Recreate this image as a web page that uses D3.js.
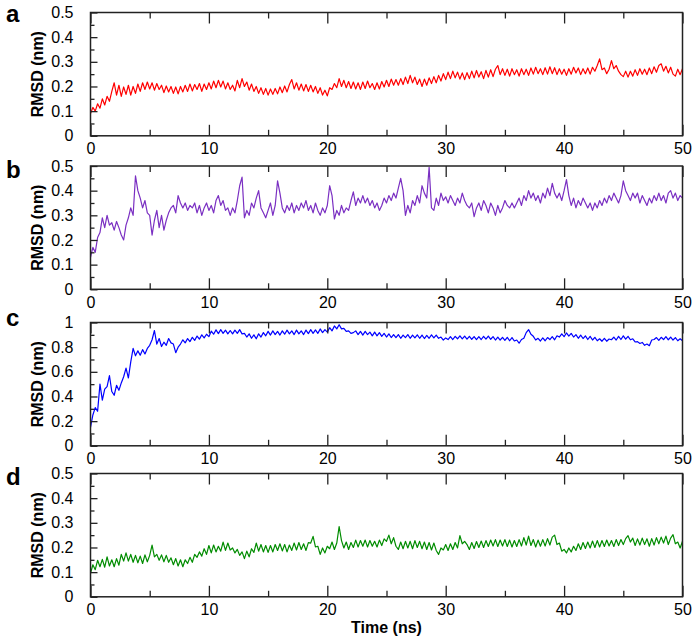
<!DOCTYPE html>
<html>
<head>
<meta charset="utf-8">
<script src="https://cdn.jsdelivr.net/npm/d3@7"></script>
<style>
  html, body { margin: 0; padding: 0; background: #fff; }
  svg { display: block; }
  text { font-family: "Liberation Sans", Arial, Helvetica, sans-serif; fill: #000; }
</style>
</head>
<body>
<svg id="chart" width="699" height="642"></svg>
<script>
// ---------------- DATA ----------------
const timeStep = 0.2;              // ns between samples (t = 0 .. 50)
const xTicks = [0, 10, 20, 30, 40, 50];
const xLabel = "Time (ns)";
const yLabel = "RMSD (nm)";
const panelLetters = ["a", "b", "c", "d"];
const yMaxes = [0.5, 0.5, 1, 0.5];
const yTicksAB = [0, 0.1, 0.2, 0.3, 0.4, 0.5];
const yTicksC = [0, 0.2, 0.4, 0.6, 0.8, 1];
const yTickLabelsAB = ["0", "0.1", "0.2", "0.3", "0.4", "0.5"];
const yTickLabelsC = ["0", "0.2", "0.4", "0.6", "0.8", "1"];

const rmsdA = [
0.090,0.115,0.100,0.130,0.112, 0.150,0.125,0.160,0.140,0.180, 0.215,0.165,0.205,0.160,0.198, 0.168,0.205,0.165,0.200,0.172,
0.210,0.180,0.215,0.188,0.218, 0.190,0.215,0.185,0.212,0.188, 0.205,0.175,0.202,0.178,0.200, 0.172,0.198,0.170,0.200,0.178,
0.205,0.180,0.210,0.182,0.208, 0.188,0.212,0.180,0.210,0.188, 0.215,0.190,0.222,0.195,0.225, 0.198,0.222,0.190,0.215,0.188,
0.205,0.182,0.225,0.195,0.232, 0.200,0.218,0.185,0.210,0.180, 0.200,0.172,0.195,0.168,0.192, 0.165,0.190,0.168,0.192,0.170,
0.198,0.175,0.202,0.178,0.208, 0.228,0.190,0.215,0.185,0.210, 0.182,0.208,0.180,0.205,0.178, 0.200,0.172,0.195,0.165,0.185,
0.162,0.195,0.188,0.212,0.195, 0.232,0.200,0.225,0.195,0.220, 0.192,0.218,0.190,0.215,0.188, 0.218,0.192,0.222,0.195,0.212,
0.188,0.215,0.190,0.220,0.198, 0.225,0.200,0.230,0.205,0.228, 0.205,0.232,0.208,0.238,0.212, 0.245,0.215,0.238,0.208,0.230,
0.200,0.230,0.205,0.235,0.212, 0.240,0.215,0.245,0.222,0.252, 0.228,0.258,0.232,0.262,0.235, 0.258,0.230,0.255,0.228,0.256,
0.232,0.262,0.235,0.265,0.238, 0.260,0.232,0.265,0.238,0.268, 0.240,0.270,0.285,0.248,0.272, 0.245,0.270,0.242,0.272,0.248,
0.268,0.242,0.272,0.248,0.270, 0.245,0.275,0.250,0.278,0.252, 0.272,0.248,0.276,0.250,0.280, 0.252,0.276,0.248,0.272,0.250,
0.270,0.245,0.272,0.250,0.278, 0.255,0.275,0.248,0.272,0.252, 0.275,0.250,0.278,0.262,0.285, 0.312,0.268,0.275,0.252,0.270,
0.305,0.272,0.285,0.262,0.248, 0.240,0.262,0.238,0.262,0.242, 0.268,0.245,0.272,0.250,0.270, 0.248,0.275,0.252,0.280,0.258,
0.285,0.292,0.262,0.282,0.255, 0.278,0.250,0.242,0.270,0.248, 0.272
];

const rmsdB = [
0.130,0.170,0.150,0.210,0.230, 0.290,0.250,0.300,0.260,0.270, 0.240,0.275,0.250,0.220,0.200, 0.260,0.290,0.330,0.300,0.460,
0.400,0.370,0.330,0.360,0.310, 0.300,0.220,0.280,0.320,0.250, 0.300,0.240,0.280,0.310,0.330, 0.340,0.310,0.380,0.350,0.330,
0.350,0.320,0.340,0.330,0.350, 0.310,0.340,0.300,0.330,0.350, 0.320,0.340,0.310,0.360,0.380, 0.340,0.360,0.320,0.330,0.300,
0.330,0.310,0.360,0.420,0.455, 0.290,0.320,0.300,0.350,0.330, 0.370,0.400,0.330,0.310,0.290, 0.320,0.350,0.300,0.340,0.440,
0.390,0.330,0.310,0.340,0.320, 0.350,0.310,0.340,0.320,0.350, 0.330,0.360,0.320,0.340,0.310, 0.350,0.320,0.300,0.330,0.310,
0.340,0.420,0.380,0.285,0.320, 0.300,0.340,0.310,0.330,0.320, 0.360,0.395,0.340,0.370,0.350, 0.380,0.350,0.370,0.340,0.360,
0.330,0.350,0.320,0.340,0.370, 0.350,0.380,0.360,0.390,0.370, 0.410,0.450,0.400,0.300,0.340, 0.310,0.360,0.340,0.380,0.350,
0.420,0.390,0.370,0.495,0.330, 0.320,0.370,0.340,0.390,0.360, 0.375,0.350,0.380,0.360,0.340, 0.370,0.350,0.390,0.360,0.340,
0.330,0.350,0.295,0.330,0.350, 0.320,0.360,0.340,0.310,0.350, 0.330,0.300,0.340,0.310,0.330, 0.360,0.340,0.330,0.350,0.330,
0.350,0.370,0.340,0.380,0.360, 0.400,0.370,0.390,0.360,0.380, 0.350,0.390,0.370,0.410,0.380, 0.430,0.390,0.370,0.390,0.360,
0.400,0.445,0.380,0.340,0.370, 0.330,0.360,0.340,0.370,0.350, 0.330,0.350,0.320,0.350,0.330, 0.360,0.340,0.370,0.350,0.380,
0.360,0.390,0.370,0.350,0.380, 0.440,0.400,0.380,0.360,0.390, 0.370,0.390,0.350,0.380,0.360, 0.340,0.370,0.350,0.380,0.360,
0.390,0.360,0.380,0.350,0.390, 0.400,0.370,0.390,0.360,0.380, 0.370
];

const rmsdC = [
0.150,0.250,0.310,0.280,0.500, 0.370,0.460,0.480,0.570,0.440, 0.410,0.490,0.450,0.510,0.560, 0.630,0.550,0.680,0.790,0.730,
0.770,0.735,0.780,0.745,0.790, 0.815,0.860,0.935,0.825,0.870, 0.805,0.840,0.815,0.870,0.835, 0.825,0.755,0.800,0.825,0.860,
0.835,0.870,0.845,0.880,0.855, 0.890,0.865,0.900,0.875,0.905, 0.885,0.930,0.905,0.940,0.910, 0.942,0.912,0.938,0.908,0.935,
0.908,0.938,0.912,0.942,0.908, 0.912,0.882,0.908,0.872,0.900, 0.868,0.908,0.882,0.918,0.892, 0.928,0.898,0.932,0.902,0.928,
0.898,0.932,0.905,0.938,0.908, 0.932,0.902,0.938,0.908,0.932, 0.902,0.938,0.910,0.942,0.912, 0.940,0.912,0.948,0.918,0.942,
0.922,0.958,0.932,0.972,0.948, 0.982,0.948,0.952,0.928,0.932, 0.912,0.918,0.932,0.902,0.928, 0.898,0.928,0.902,0.922,0.892,
0.922,0.892,0.918,0.888,0.912, 0.882,0.908,0.878,0.902,0.878, 0.902,0.872,0.898,0.878,0.902, 0.872,0.898,0.875,0.900,0.872,
0.898,0.870,0.895,0.872,0.900, 0.875,0.898,0.872,0.882,0.858, 0.875,0.862,0.885,0.862,0.888, 0.868,0.892,0.868,0.890,0.866,
0.888,0.864,0.886,0.862,0.885, 0.862,0.888,0.865,0.890,0.864, 0.885,0.858,0.882,0.858,0.880, 0.855,0.880,0.852,0.878,0.850,
0.858,0.832,0.862,0.872,0.918, 0.942,0.905,0.888,0.858,0.872, 0.850,0.875,0.852,0.878,0.862, 0.885,0.860,0.892,0.882,0.908,
0.885,0.915,0.890,0.912,0.882, 0.902,0.872,0.898,0.870,0.892, 0.862,0.888,0.858,0.880,0.852, 0.868,0.848,0.872,0.848,0.866,
0.860,0.882,0.858,0.888,0.862, 0.892,0.865,0.888,0.860,0.868, 0.842,0.845,0.830,0.838,0.815, 0.825,0.812,0.858,0.862,0.878,
0.855,0.880,0.862,0.885,0.860, 0.882,0.858,0.878,0.852,0.868, 0.852
];

const rmsdD = [
0.095,0.130,0.110,0.148,0.122, 0.152,0.120,0.162,0.125,0.150, 0.122,0.155,0.128,0.172,0.145, 0.178,0.145,0.172,0.140,0.168,
0.138,0.165,0.135,0.170,0.142, 0.168,0.210,0.162,0.172,0.148, 0.170,0.142,0.168,0.140,0.158, 0.130,0.155,0.125,0.150,0.122,
0.150,0.135,0.160,0.140,0.172, 0.160,0.182,0.165,0.195,0.172, 0.208,0.178,0.210,0.182,0.205, 0.185,0.222,0.188,0.218,0.190,
0.198,0.178,0.192,0.168,0.182, 0.155,0.185,0.162,0.195,0.180, 0.218,0.185,0.212,0.182,0.208, 0.180,0.208,0.182,0.212,0.188,
0.215,0.186,0.212,0.182,0.210, 0.188,0.218,0.190,0.220,0.192, 0.215,0.188,0.220,0.218,0.245, 0.202,0.205,0.172,0.198,0.178,
0.205,0.195,0.222,0.192,0.218, 0.285,0.228,0.198,0.222,0.192, 0.220,0.200,0.230,0.202,0.228, 0.205,0.230,0.202,0.228,0.205,
0.225,0.202,0.230,0.208,0.235, 0.225,0.250,0.215,0.240,0.205, 0.192,0.222,0.195,0.225,0.198, 0.225,0.195,0.228,0.200,0.225,
0.195,0.222,0.192,0.220,0.190, 0.218,0.188,0.172,0.198,0.190, 0.212,0.188,0.215,0.192,0.220, 0.198,0.248,0.215,0.225,0.212,
0.192,0.220,0.196,0.224,0.200, 0.226,0.200,0.228,0.204,0.230, 0.206,0.232,0.204,0.230,0.206, 0.232,0.204,0.230,0.202,0.228,
0.204,0.232,0.206,0.240,0.210, 0.246,0.208,0.232,0.202,0.230, 0.205,0.232,0.206,0.236,0.210, 0.242,0.250,0.212,0.218,0.185,
0.192,0.178,0.198,0.182,0.205, 0.188,0.215,0.192,0.220,0.196, 0.222,0.198,0.226,0.200,0.228, 0.202,0.228,0.204,0.230,0.206,
0.228,0.204,0.232,0.208,0.232, 0.212,0.236,0.248,0.222,0.238, 0.208,0.235,0.210,0.238,0.212, 0.235,0.205,0.236,0.210,0.240,
0.215,0.242,0.218,0.246,0.212, 0.238,0.252,0.215,0.222,0.198, 0.225
];

const seriesList = [rmsdA, rmsdB, rmsdC, rmsdD];
const seriesColors = ["#ff0000", "#7a2fc2", "#0000ff", "#008c00"];

// ---------------- LAYOUT ----------------
const plotLeft = 90.5, plotRight = 682.5;
const panelTops = [12.5, 166, 322.5, 473.5];
const panelHeight = 123.3;
const letterBaselines = [22, 178, 326, 485];

const svg = d3.select("#chart");
const x = d3.scaleLinear().domain([0, 50]).range([plotLeft, plotRight]);

seriesList.forEach((vals, i) => {
  const top = panelTops[i], bottom = top + panelHeight;
  const yMax = yMaxes[i];
  const y = d3.scaleLinear().domain([0, yMax]).range([bottom, top]);
  const g = svg.append("g");

  const majorY = yMax === 1 ? yTicksC : yTicksAB;
  const majorYLabels = yMax === 1 ? yTickLabelsC : yTickLabelsAB;
  const minorYStep = yMax === 1 ? 0.1 : 0.05;
  const minorY = d3.range(0, yMax + 1e-9, minorYStep).filter(v => !majorY.some(m => Math.abs(m - v) < 1e-9));
  const minorX = [5, 15, 25, 35, 45];

  // line
  const line = d3.line().x((d, k) => x(k * timeStep)).y(d => y(d));
  g.append("path")
    .datum(vals)
    .attr("d", line)
    .attr("fill", "none")
    .attr("stroke", seriesColors[i])
    .attr("stroke-width", 1.2)
    .attr("stroke-linejoin", "round");

  // bottom axis (ticks inward)
  const axB = d3.axisBottom(x).tickValues(xTicks).tickSize(-11).tickFormat(d3.format("d"));
  const gB = g.append("g").attr("transform", `translate(0,${bottom})`).call(axB);
  gB.select(".domain").remove();
  gB.selectAll("text").attr("font-size", 16).attr("font-family", "Liberation Sans, Arial, sans-serif").attr("dy", "0.71em").attr("y", 7);
  const axBm = d3.axisBottom(x).tickValues(minorX).tickSize(-6).tickFormat("");
  const gBm = g.append("g").attr("transform", `translate(0,${bottom})`).call(axBm);
  gBm.select(".domain").remove();

  // top axis (ticks inward, no labels)
  const axT = d3.axisTop(x).tickValues(xTicks).tickSize(-11).tickFormat("");
  const gT = g.append("g").attr("transform", `translate(0,${top})`).call(axT);
  gT.select(".domain").remove();
  const axTm = d3.axisTop(x).tickValues(minorX).tickSize(-6).tickFormat("");
  const gTm = g.append("g").attr("transform", `translate(0,${top})`).call(axTm);
  gTm.select(".domain").remove();

  // left axis (ticks inward)
  const axL = d3.axisLeft(y).tickValues(majorY).tickSize(-7)
    .tickFormat((d, k) => majorYLabels[k]);
  const gL = g.append("g").attr("transform", `translate(${plotLeft},0)`).call(axL);
  gL.select(".domain").remove();
  gL.selectAll("text").attr("font-size", 16).attr("font-family", "Liberation Sans, Arial, sans-serif").attr("x", -17);
  const axLm = d3.axisLeft(y).tickValues(minorY).tickSize(-4).tickFormat("");
  const gLm = g.append("g").attr("transform", `translate(${plotLeft},0)`).call(axLm);
  gLm.select(".domain").remove();

  g.selectAll(".tick line").attr("stroke", "#222").attr("stroke-width", 1.3);

  // frame
  g.append("rect")
    .attr("x", plotLeft).attr("y", top)
    .attr("width", plotRight - plotLeft).attr("height", panelHeight)
    .attr("fill", "none").attr("stroke", "#222").attr("stroke-width", 1.5);

  // y label
  g.append("text")
    .attr("transform", `translate(43,${(top + bottom) / 2}) rotate(-90)`)
    .attr("text-anchor", "middle")
    .attr("font-size", 16).attr("font-weight", "bold")
    .text(yLabel);

  // panel letter
  g.append("text")
    .attr("x", 6).attr("y", letterBaselines[i])
    .attr("font-size", 24).attr("font-weight", "bold")
    .text(panelLetters[i]);
});

svg.append("text")
  .attr("x", (plotLeft + plotRight) / 2).attr("y", 633)
  .attr("text-anchor", "middle")
  .attr("font-size", 16).attr("font-weight", "bold")
  .text(xLabel);
</script>
</body>
</html>
